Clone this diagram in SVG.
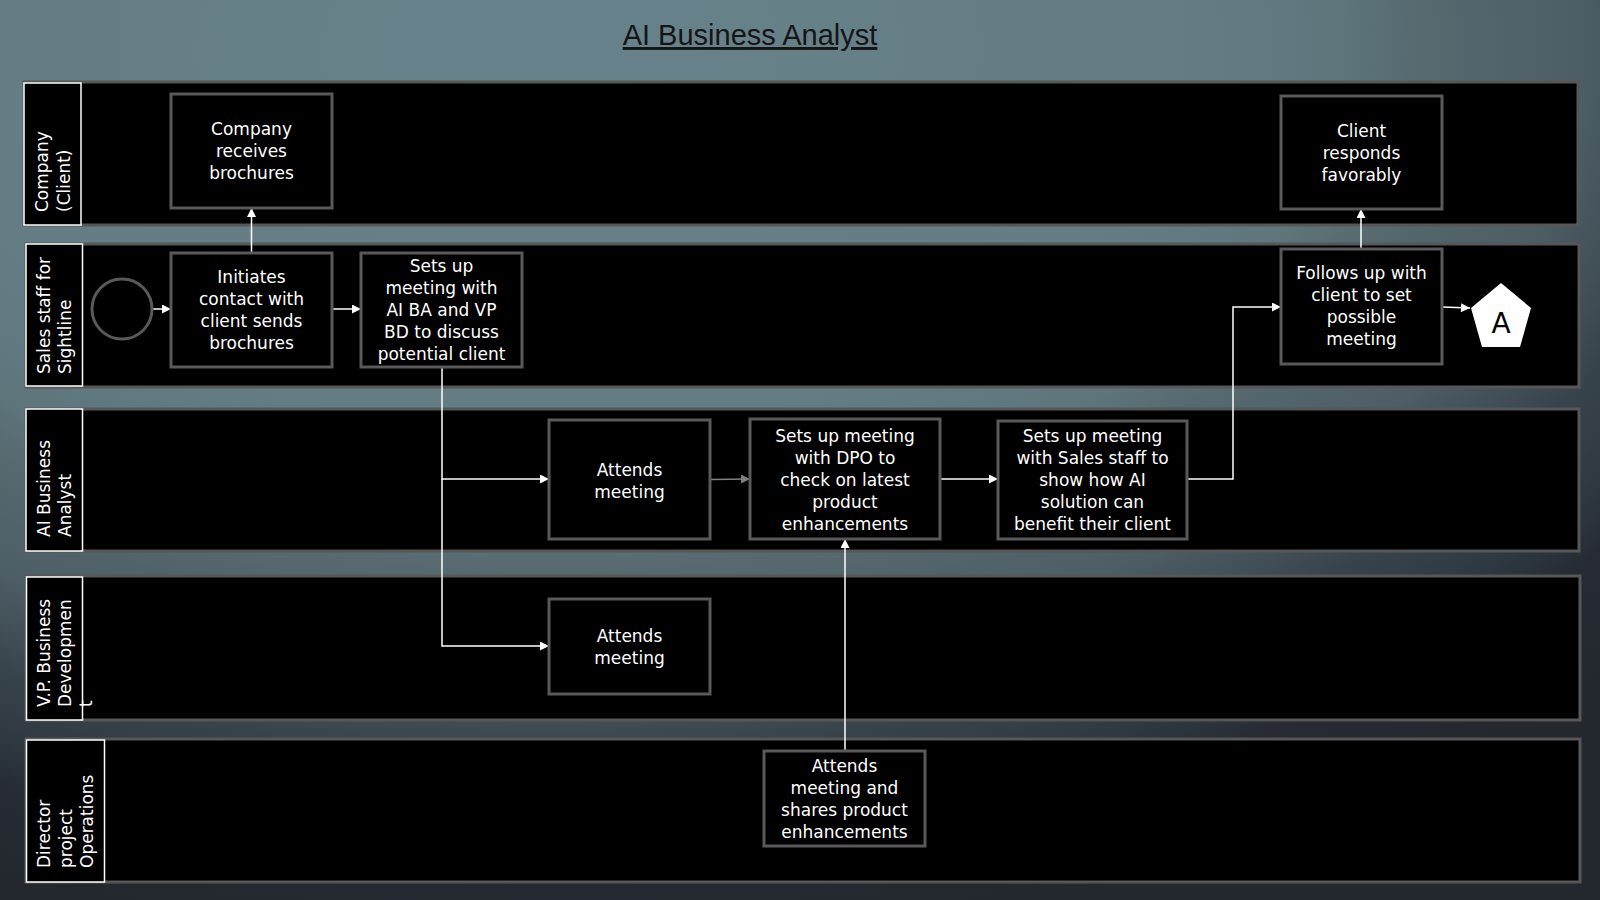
<svg xmlns="http://www.w3.org/2000/svg" width="1600" height="900" viewBox="0 0 1600 900">
<defs>
<radialGradient id="bg" gradientUnits="userSpaceOnUse" cx="550" cy="50" r="900" gradientTransform="translate(550,50) scale(1.6667,1) translate(-550,-50)">
<stop offset="0" stop-color="#68828b"/>
<stop offset="0.42" stop-color="#647d84"/>
<stop offset="0.53" stop-color="#5e757c"/>
<stop offset="0.58" stop-color="#566a70"/>
<stop offset="0.69" stop-color="#4d5d65"/>
<stop offset="0.78" stop-color="#38444c"/>
<stop offset="0.85" stop-color="#2e3840"/>
<stop offset="0.9" stop-color="#262a32"/>
<stop offset="1" stop-color="#23272e"/>
</radialGradient>
<marker id="aw" viewBox="0 0 10 10" refX="10" refY="5" markerWidth="10" markerHeight="9" markerUnits="userSpaceOnUse" orient="auto">
<path d="M0,0 L10,5 L0,10 z" fill="#ffffff"/>
</marker>
<marker id="ag" viewBox="0 0 10 10" refX="10" refY="5" markerWidth="10" markerHeight="9" markerUnits="userSpaceOnUse" orient="auto">
<path d="M0,0 L10,5 L0,10 z" fill="#808080"/>
</marker>
</defs>
<style>
.lane{fill:#000;stroke:#575757;stroke-width:3}
.hdr{fill:#000;stroke:#ffffff;stroke-width:1.5}
.box{fill:#000;stroke:#595959;stroke-width:3}
.ht{font-family:"DejaVu Sans",sans-serif;font-size:17px;fill:#ffffff}
.nt{font-family:"DejaVu Sans",sans-serif;font-size:17px;fill:#ffffff;text-anchor:middle}
.c{fill:none;stroke:#ffffff;stroke-width:1.5;marker-end:url(#aw)}
.cg{fill:none;stroke:#808080;stroke-width:1.5;marker-end:url(#ag)}
</style>
<rect x="0" y="0" width="1600" height="900" fill="url(#bg)"/>
<text x="750" y="45" font-family="Liberation Sans, sans-serif" font-size="29" fill="#151515" text-anchor="middle" text-decoration="underline">AI Business Analyst</text>

<g id="lanes">
<g id="lane-company">
<rect class="lane" x="24" y="82" width="1554" height="143"/>
<rect class="hdr" x="24" y="83" width="57" height="142"/>
<text class="ht" transform="translate(48,212) rotate(-90)">Company</text>
<text class="ht" transform="translate(70,212) rotate(-90)">(Client)</text>
</g>
<g id="lane-sales">
<rect class="lane" x="26" y="244" width="1553" height="143"/>
<rect class="hdr" x="26" y="244" width="56.5" height="142"/>
<text class="ht" transform="translate(50,374) rotate(-90)">Sales staff for</text>
<text class="ht" transform="translate(71,374) rotate(-90)">Sightline</text>
</g>
<g id="lane-ba">
<rect class="lane" x="26" y="409" width="1553" height="142"/>
<rect class="hdr" x="26" y="409" width="56.5" height="142"/>
<text class="ht" transform="translate(50,537) rotate(-90)">AI Business</text>
<text class="ht" transform="translate(71,537) rotate(-90)">Analyst</text>
</g>
<g id="lane-vp">
<rect class="lane" x="26" y="576" width="1554" height="144"/>
<rect class="hdr" x="26.5" y="577" width="56" height="143"/>
<text class="ht" transform="translate(50,707) rotate(-90)">V.P. Business</text>
<text class="ht" transform="translate(71,707) rotate(-90)">Developmen</text>
<text class="ht" transform="translate(92,707) rotate(-90)">t</text>
</g>
<g id="lane-dpo">
<rect class="lane" x="26" y="739" width="1554" height="143"/>
<rect class="hdr" x="26.5" y="740" width="78" height="142"/>
<text class="ht" transform="translate(50,868) rotate(-90)">Director</text>
<text class="ht" transform="translate(71.5,868) rotate(-90)">project</text>
<text class="ht" transform="translate(93,868) rotate(-90)">Operations</text>
</g>
</g>

<g id="connectors">
<path class="c" d="M152,309 H171"/>
<path class="c" d="M332,309 H361"/>
<path class="c" d="M251.5,253 V208"/>
<path class="c" d="M442,367 V479 H549"/>
<path class="c" d="M442,479 V646 H549"/>
<path class="cg" d="M710,479.5 L750,479"/>
<path class="c" d="M940,479 H998"/>
<path class="c" d="M845,751 V539"/>
<path class="c" d="M1187,479 H1233 V307 H1281"/>
<path class="c" d="M1361,249 V209"/>
<path class="c" d="M1442,307 L1470,308"/>
</g>

<g id="start">
<circle cx="122" cy="309" r="30" fill="#000" stroke="#595959" stroke-width="3"/>
</g>

<g id="n-company-receives">
<rect class="box" x="171" y="94" width="161" height="114"/>
<text class="nt" x="251.5" y="135">Company</text>
<text class="nt" x="251.5" y="157">receives</text>
<text class="nt" x="251.5" y="179">brochures</text>
</g>

<g id="n-client-responds">
<rect class="box" x="1281" y="96" width="161" height="113"/>
<text class="nt" x="1361.5" y="137">Client</text>
<text class="nt" x="1361.5" y="159">responds</text>
<text class="nt" x="1361.5" y="181">favorably</text>
</g>

<g id="n-initiates">
<rect class="box" x="171" y="253" width="161" height="114"/>
<text class="nt" x="251.5" y="283">Initiates</text>
<text class="nt" x="251.5" y="305">contact with</text>
<text class="nt" x="251.5" y="327">client sends</text>
<text class="nt" x="251.5" y="349">brochures</text>
</g>

<g id="n-setsup">
<rect class="box" x="361" y="253" width="161" height="114"/>
<text class="nt" x="441.5" y="272">Sets up</text>
<text class="nt" x="441.5" y="294">meeting with</text>
<text class="nt" x="441.5" y="316">AI BA and VP</text>
<text class="nt" x="441.5" y="338">BD to discuss</text>
<text class="nt" x="441.5" y="360">potential client</text>
</g>

<g id="n-follows">
<rect class="box" x="1281" y="249" width="161" height="115"/>
<text class="nt" x="1361.5" y="279">Follows up with</text>
<text class="nt" x="1361.5" y="301">client to set</text>
<text class="nt" x="1361.5" y="323">possible</text>
<text class="nt" x="1361.5" y="345">meeting</text>
</g>

<g id="n-offpage-a">
<polygon points="1501,283 1531,308 1520,347 1482,347 1471,308" fill="#ffffff"/>
<text x="1501" y="333" font-family="DejaVu Sans, sans-serif" font-size="28" fill="#000" text-anchor="middle">A</text>
</g>

<g id="n-ba-attends">
<rect class="box" x="549" y="420" width="161" height="119"/>
<text class="nt" x="629.5" y="476">Attends</text>
<text class="nt" x="629.5" y="498">meeting</text>
</g>

<g id="n-ba-dpo">
<rect class="box" x="750" y="419" width="190" height="120"/>
<text class="nt" x="845" y="442">Sets up meeting</text>
<text class="nt" x="845" y="464">with DPO to</text>
<text class="nt" x="845" y="486">check on latest</text>
<text class="nt" x="845" y="508">product</text>
<text class="nt" x="845" y="530">enhancements</text>
</g>

<g id="n-ba-sales">
<rect class="box" x="998" y="421" width="189" height="118"/>
<text class="nt" x="1092.5" y="442">Sets up meeting</text>
<text class="nt" x="1092.5" y="464">with Sales staff to</text>
<text class="nt" x="1092.5" y="486">show how AI</text>
<text class="nt" x="1092.5" y="508">solution can</text>
<text class="nt" x="1092.5" y="530">benefit their client</text>
</g>

<g id="n-vp-attends">
<rect class="box" x="549" y="599" width="161" height="95"/>
<text class="nt" x="629.5" y="642">Attends</text>
<text class="nt" x="629.5" y="664">meeting</text>
</g>

<g id="n-dpo-attends">
<rect class="box" x="764" y="751" width="161" height="95"/>
<text class="nt" x="844.5" y="772">Attends</text>
<text class="nt" x="844.5" y="794">meeting and</text>
<text class="nt" x="844.5" y="816">shares product</text>
<text class="nt" x="844.5" y="838">enhancements</text>
</g>
</svg>
